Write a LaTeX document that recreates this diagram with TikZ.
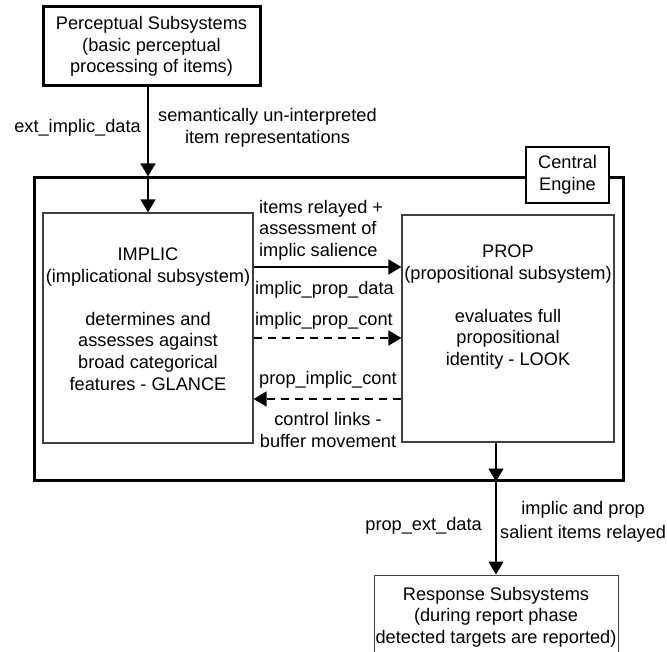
\documentclass[tikz,border=0pt]{standalone}
\usepackage{fontspec}
\setmainfont{Liberation Sans}
\usetikzlibrary{arrows.meta,positioning}

\tikzset{
  every node/.style={font=\fontsize{18.2}{21.6}\selectfont},
  outerbox/.style={draw,line width=3pt,fill=white,align=center,inner sep=0pt},
  subbox/.style={draw=black!75,line width=1.2pt,fill=white,align=center,inner sep=0pt},
  lbl/.style={align=center,inner sep=0pt},
  flow/.style={line width=1.6pt,-{Triangle[length=13pt,width=15pt]}},
  ctrl/.style={flow,dash pattern=on 8pt off 6pt},
}

\begin{document}
\begin{tikzpicture}[x=1pt,y=-1pt,line join=miter]
\useasboundingbox (0,0) rectangle (667,652);
% boxes
\node[outerbox,minimum width=589pt,minimum height=302pt] (engine) at (328.5,329) {};
\node[outerbox,line width=2.5pt,minimum width=83pt,minimum height=56pt] (enginename) at (567.5,175) {Central\\Engine};
\node[outerbox,minimum width=217pt,minimum height=79pt] (percept) at (151.5,46.5) {Perceptual Subsystems\\(basic perceptual\\processing of items)};
\node[subbox,minimum width=210pt,minimum height=230pt] (implic) at (148,328) {};
\node[subbox,minimum width=212pt,minimum height=227pt] (prop) at (508,328.5) {};
\node[subbox,line width=1pt,minimum width=244pt,minimum height=84pt] (response) at (496,617) {Response Subsystems\\(during report phase\\detected targets are reported)};
\node[lbl] (implictext) at (148,319) {IMPLIC\\(implicational subsystem)\\[21.6pt]determines and\\assesses against\\broad categorical\\features - GLANCE};
\node[lbl] (proptext) at (508,307) {PROP\\(propositional subsystem)\\[21.6pt]evaluates full\\propositional\\identity - LOOK};
% connectors
\coordinate (datal) at ([yshift=61pt]implic.east);
\coordinate (contl) at ([yshift=-10pt]implic.east);
\coordinate (backl) at ([yshift=-71pt]implic.east);
\draw[flow] (implic.north |- percept.south) -- (implic.north |- engine.north);
\draw[flow] (implic.north |- engine.north) -- (implic.north);
\draw[flow] (datal) -- (datal -| prop.west);
\draw[ctrl] (contl) -- (contl -| prop.west);
\draw[ctrl] (backl -| prop.west) -- (backl);
\draw[flow] (response.north |- prop.south) -- (response.north |- engine.south);
\draw[flow] (response.north |- engine.south) -- (response.north);
% labels
\node[lbl,anchor=east] (extlbl) at (141,128) {ext\_implic\_data};
\node[lbl,anchor=west] (semlbl) at (158,128) {semantically un-interpreted\\item representations};
\node[lbl,anchor=west,align=left] (relaylbl) at (259,230) {items relayed +\\assessment of\\implic salience};
\node[lbl,anchor=west] (datalbl) at (255,290) {implic\_prop\_data};
\node[lbl,anchor=west] (contlbl) at (255,321) {implic\_prop\_cont};
\node[lbl,anchor=west] (backlbl) at (259,380) {prop\_implic\_cont};
\node[lbl] (buflbl) at (328,430) {control links -\\buffer movement};
\node[lbl,anchor=east] (extdlbl) at (482,526) {prop\_ext\_data};
\node[lbl,anchor=west,font=\fontsize{18.2}{24}\selectfont] (salientlbl) at (500,522) {implic and prop\\salient items relayed};
\end{tikzpicture}
\end{document}
